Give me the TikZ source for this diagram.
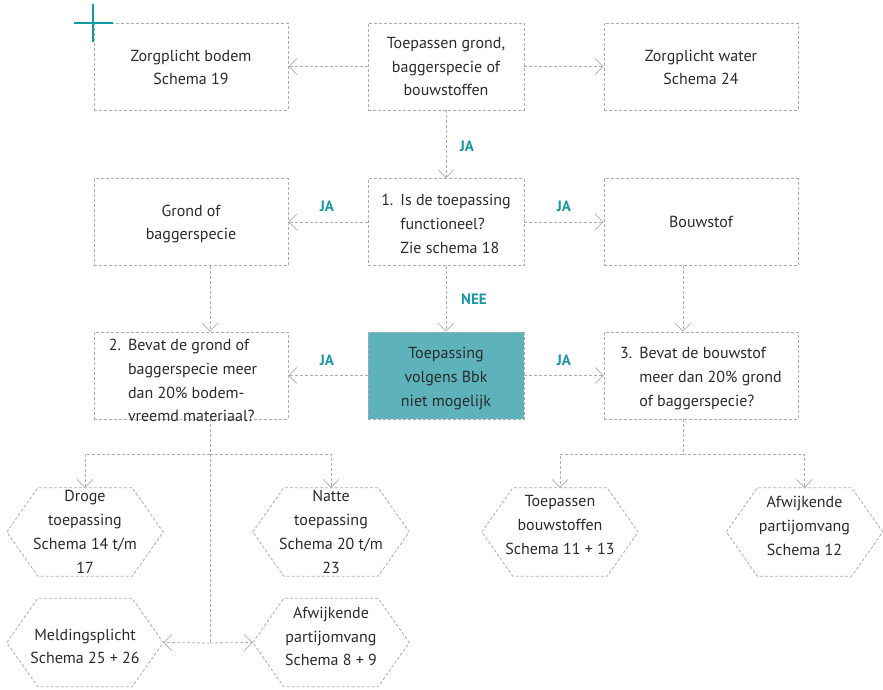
\documentclass[tikz,border=0pt]{standalone}
\usepackage{fontspec}
\setmainfont{PT Sans}
\usetikzlibrary{arrows.meta,calc}
\definecolor{txt}{HTML}{2B2B2B}
\definecolor{ln}{HTML}{ADADAD}
\definecolor{tealfill}{HTML}{5DB2BC}
\definecolor{tealtxt}{HTML}{1797A3}
\definecolor{tealcross}{HTML}{0E9AA0}
\tikzset{
  dl/.style={draw=ln, line width=0.8pt, dash pattern=on 3pt off 2pt},
  arr/.style={dl, -{Straight Barb[length=8pt,width=16pt,line width=0.7pt]}},
  box/.style={dl, rectangle, minimum width=194pt, minimum height=87pt, inner sep=0pt},
  tx/.style={inner sep=0pt, align=center, text=txt, font=\fontsize{16}{23.8}\selectfont},
  hexn/.style={rectangle, minimum width=156pt, minimum height=88pt, inner sep=0pt},
  yes/.style={text=tealtxt, font=\fontsize{15}{16}\selectfont\bfseries, inner sep=0pt},
}
\newcommand{\hexdraw}[1]{\draw[dl] (#1.west) -- ([xshift=31pt]#1.north west) -- ([xshift=-31pt]#1.north east) -- (#1.east) -- ([xshift=-31pt]#1.south east) -- ([xshift=31pt]#1.south west) -- cycle;}
\begin{document}
\begin{tikzpicture}[x=1pt,y=-1pt]
\useasboundingbox (0,0) rectangle (883,689);
% row 1
\node[box] (zb) at (191,66.5) {};
\node[box, minimum width=156pt] (tg) at (446,66.5) {};
\node[box] (zw) at (701,66.5) {};
% row 2
\node[box] (gb) at (191,222) {};
\node[box, minimum width=156pt] (q1) at (446,222) {};
\node[box] (bs) at (701,222) {};
% row 3
\node[box] (q2) at (191,375.5) {};
\node[box, minimum width=156pt, fill=tealfill] (np) at (446,375.5) {};
\node[box] (q3) at (701,375.5) {};
% hexagons
\node[hexn] (h1) at (85,532) {};
\node[hexn] (h2) at (331,532) {};
\node[hexn] (h3) at (85,642.5) {};
\node[hexn] (h4) at (331,642.5) {};
\node[hexn] (h5) at (560,532) {};
\node[hexn] (h6) at (804.5,532) {};
\hexdraw{h1}\hexdraw{h2}\hexdraw{h3}\hexdraw{h4}\hexdraw{h5}\hexdraw{h6}
% cross
\draw[tealcross, line width=2.4pt] (93,4) -- (93,42);
\draw[tealcross, line width=2.4pt] (74,23) -- (113,23);
% texts
\node[tx] (zbt) at ([yshift=-1pt]zb.center) {Zorgplicht bodem\\Schema 19};
\node[tx] (tgt) at (tg.center) {Toepassen grond,\\baggerspecie of\\bouwstoffen};
\node[tx] (zwt) at ([yshift=-1pt]zw.center) {Zorgplicht water\\Schema 24};
\node[tx] (gbt) at ([yshift=-2pt]gb.center) {Grond of\\baggerspecie};
\node[tx] (q1t) at ([yshift=-3pt]q1.center) {\begin{tabular}{@{}l@{\hspace{7pt}}l@{}}1. & Is de toepassing\\ & functioneel?\\ & Zie schema 18\end{tabular}};
\node[tx] (bst) at (bs.center) {Bouwstof};
\node[tx] (q2t) at ([xshift=-8pt,yshift=-6pt]q2.center) {\begin{tabular}{@{}l@{\hspace{7pt}}l@{}}2. & Bevat de grond of\\ & baggerspecie meer\\ & dan 20\% bodem-\\ & vreemd materiaal?\end{tabular}};
\node[tx] (npt) at ([yshift=-3pt]np.center) {Toepassing\\volgens Bbk\\niet mogelijk};
\node[tx] (q3t) at ([yshift=-2pt]q3.center) {\begin{tabular}{@{}l@{\hspace{7pt}}l@{}}3. & Bevat de bouwstof\\ & meer dan 20\% grond\\ & of baggerspecie?\end{tabular}};
\node[tx] (h1t) at (h1.center) {Droge\\toepassing\\Schema 14 t/m\\17};
\node[tx] (h2t) at (h2.center) {Natte\\toepassing\\Schema 20 t/m\\23};
\node[tx] (h3t) at ([yshift=-4pt]h3.center) {Meldingsplicht\\Schema 25 + 26};
\node[tx] (h4t) at ([yshift=6pt]h4.center) {Afwijkende\\partijomvang\\Schema 8 + 9};
\node[tx] (h5t) at ([yshift=7pt]h5.center) {Toepassen\\bouwstoffen\\Schema 11 + 13};
\node[tx] (h6t) at ([yshift=6pt]h6.center) {Afwijkende\\partijomvang\\Schema 12};
% connectors
\draw[arr] (tg) -- (zb);
\draw[arr] (tg) -- (zw);
\draw[arr] (tg) -- (q1);
\draw[arr] (q1) -- (gb);
\draw[arr] (q1) -- (bs);
\draw[arr] (q1) -- (np);
\draw[arr] ([xshift=19pt]gb.south) -- ([xshift=19pt]q2.north);
\draw[arr] ([xshift=-18pt]bs.south) -- ([xshift=-18pt]q3.north);
\draw[arr] (np) -- (q2);
\draw[arr] (np) -- (q3);
\coordinate (t1) at (210,643);
\coordinate (b1) at (210,454);
\draw[dl] ([xshift=19pt]q2.south) -- (t1);
\draw[arr] (t1) -- (h3.east);
\draw[arr] (t1) -- (h4.west);
\draw[arr] (b1) -| (h1.north);
\draw[arr] (b1) -| (h2.north);
\coordinate (b2) at (683,454);
\draw[dl] ([xshift=-18pt]q3.south) -- (b2);
\draw[arr] (b2) -| (h5.north);
\draw[arr] (b2) -| (h6.north);
% labels
\node[yes] (l1) at (467,146) {JA};
\node[yes] (l2) at (327,206) {JA};
\node[yes] (l3) at (564,206) {JA};
\node[yes] (l4) at (474,299) {NEE};
\node[yes] (l5) at (327,360) {JA};
\node[yes] (l6) at (564,360) {JA};
\end{tikzpicture}
\end{document}
